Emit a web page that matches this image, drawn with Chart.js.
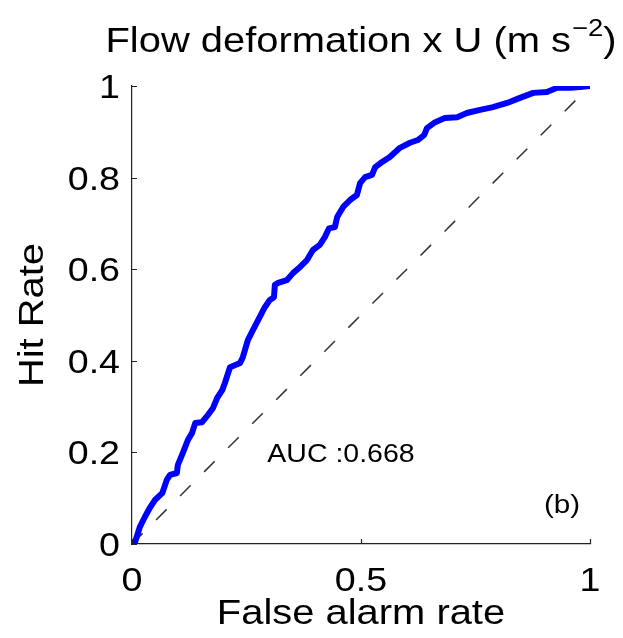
<!DOCTYPE html>
<html>
<head>
<meta charset="utf-8">
<title>ROC - Flow deformation x U</title>
<script src="https://cdn.jsdelivr.net/npm/chart.js@4.4.1/dist/chart.umd.min.js"></script>
<style>
    html, body { margin: 0; padding: 0; background: #ffffff; }
    #rocChart { display: block; }
</style>
</head>
<body>
<canvas id="rocChart" width="623" height="638"></canvas>
<script>
// ROC curve points (false alarm rate, hit rate)
const falseAlarm = [0, 0.006, 0.013, 0.017, 0.028, 0.039, 0.050, 0.066, 0.076, 0.083, 0.098, 0.100,
    0.111, 0.122, 0.131, 0.138, 0.153, 0.166, 0.177, 0.186, 0.197, 0.203, 0.214, 0.236, 0.242,
    0.253, 0.264, 0.279, 0.290, 0.301, 0.310, 0.312, 0.319, 0.338, 0.352, 0.367, 0.382, 0.395,
    0.410, 0.421, 0.430, 0.443, 0.448, 0.461, 0.476, 0.491, 0.498, 0.509, 0.524, 0.531, 0.546,
    0.563, 0.585, 0.607, 0.624, 0.638, 0.644, 0.662, 0.683, 0.710, 0.731, 0.760, 0.788, 0.819,
    0.847, 0.876, 0.906, 0.928, 0.956, 0.978, 1];
const hitRate = [0, 0.002, 0.024, 0.037, 0.059, 0.079, 0.096, 0.111, 0.140, 0.151, 0.155, 0.172,
    0.199, 0.227, 0.242, 0.264, 0.266, 0.282, 0.297, 0.319, 0.336, 0.352, 0.386, 0.395, 0.408,
    0.445, 0.467, 0.496, 0.517, 0.533, 0.539, 0.566, 0.570, 0.576, 0.592, 0.605, 0.620, 0.642,
    0.653, 0.670, 0.689, 0.692, 0.714, 0.736, 0.751, 0.762, 0.788, 0.801, 0.806, 0.823, 0.834,
    0.845, 0.865, 0.876, 0.882, 0.893, 0.908, 0.921, 0.930, 0.932, 0.941, 0.948, 0.954, 0.963,
    0.974, 0.985, 0.987, 0.996, 0.996, 0.998, 1];

// no-skill diagonal
const diagX = [0, 1];
const diagY = [0, 1];

const xTicks = [0, 0.5, 1];
const xTickLabels = ['0', '0.5', '1'];
const yTicks = [0, 0.2, 0.4, 0.6, 0.8, 1];
const yTickLabels = ['0', '0.2', '0.4', '0.6', '0.8', '1'];

const aucText = 'AUC :0.668';
const panelText = '(b)';

const FONT = '"Liberation Sans", Arial, Helvetica, sans-serif';
const WIDE = 1.14;  // the lettering is a bit wider than Liberation Sans

function toPoints(xs, ys) {
    return xs.map((x, i) => ({ x: x, y: ys[i] }));
}

// text drawn slightly widened along its reading direction
function wideText(ctx, text, x, y, align, baseline, angle) {
    ctx.save();
    ctx.translate(x, y);
    if (angle) ctx.rotate(angle);
    ctx.scale(WIDE, 1);
    ctx.textAlign = align;
    ctx.textBaseline = baseline;
    ctx.fillText(text, 0, 0);
    ctx.restore();
}

// inward tick marks, tick labels and all the free text
const annotate = {
    id: 'annotate',
    afterDraw(chart) {
        const ctx = chart.ctx;
        const xs = chart.scales.x;
        const ys = chart.scales.y;
        const area = chart.chartArea;

        ctx.save();
        ctx.strokeStyle = '#222';
        ctx.lineWidth = 1.2;
        ctx.beginPath();
        xTicks.forEach(v => {
            const px = Math.round(xs.getPixelForValue(v)) + 0.5;
            ctx.moveTo(px, area.bottom);
            ctx.lineTo(px, area.bottom - 5);
        });
        yTicks.forEach(v => {
            const py = Math.round(ys.getPixelForValue(v)) + 0.5;
            ctx.moveTo(area.left, py);
            ctx.lineTo(area.left + 5, py);
        });
        ctx.stroke();

        ctx.fillStyle = '#000';

        // tick labels
        ctx.font = '33px ' + FONT;
        xTicks.forEach((v, i) => {
            wideText(ctx, xTickLabels[i], xs.getPixelForValue(v), area.bottom + 47, 'center', 'alphabetic');
        });
        yTicks.forEach((v, i) => {
            wideText(ctx, yTickLabels[i], area.left - 12, ys.getPixelForValue(v) + 12, 'right', 'alphabetic');
        });

        // title: "Flow deformation x U (m s^-2)"
        const mainFont = '35px ' + FONT;
        const supFont = '24px ' + FONT;
        const partA = 'Flow deformation x U (m s';
        const partSup = '\u22122';
        const partB = ')';
        ctx.font = mainFont;
        const wA = ctx.measureText(partA).width * WIDE;
        const wB = ctx.measureText(partB).width * WIDE;
        ctx.font = supFont;
        const wSup = ctx.measureText(partSup).width * WIDE;
        const total = wA + wSup + wB + 1;
        const cx = (area.left + area.right) / 2;
        let tx = cx - total / 2;
        const base = 52;
        ctx.font = mainFont;
        wideText(ctx, partA, tx, base, 'left', 'alphabetic');
        tx += wA + 1;
        ctx.font = supFont;
        wideText(ctx, partSup, tx, base - 16, 'left', 'alphabetic');
        tx += wSup;
        ctx.font = mainFont;
        wideText(ctx, partB, tx, base, 'left', 'alphabetic');

        // axis titles
        ctx.font = '35px ' + FONT;
        wideText(ctx, 'False alarm rate', cx, 624, 'center', 'alphabetic');
        wideText(ctx, 'Hit Rate', 43, (area.top + area.bottom) / 2, 'center', 'alphabetic', -Math.PI / 2);

        // annotations
        ctx.font = '25px ' + FONT;
        wideText(ctx, aucText, 341, 462, 'center', 'alphabetic');
        ctx.font = '26px ' + FONT;
        wideText(ctx, panelText, 562, 513, 'center', 'alphabetic');
        ctx.restore();
    }
};

const ctx = document.getElementById('rocChart').getContext('2d');
const chart = new Chart(ctx, {
    type: 'scatter',
    data: {
        datasets: [
            {
                label: 'ROC',
                data: toPoints(falseAlarm, hitRate),
                showLine: true,
                borderColor: '#0000ff',
                borderWidth: 6,
                borderCapStyle: 'round',
                borderJoinStyle: 'round',
                pointRadius: 0,
                tension: 0,
                fill: false
            },
            {
                label: 'No skill',
                data: toPoints(diagX, diagY),
                showLine: true,
                borderColor: '#333333',
                borderWidth: 1.5,
                borderDash: [15, 19],
                pointRadius: 0,
                tension: 0,
                fill: false
            }
        ]
    },
    options: {
        responsive: false,
        animation: false,
        events: [],
        layout: {
            padding: { left: 0, right: 33, top: 86, bottom: 0 }
        },
        plugins: {
            legend: { display: false },
            tooltip: { enabled: false },
            title: { display: false }
        },
        scales: {
            x: {
                type: 'linear',
                min: 0,
                max: 1,
                afterBuildTicks: scale => { scale.ticks = xTicks.map(v => ({ value: v })); },
                afterFit: scale => { scale.height = 94; },
                grid: { display: false, drawTicks: false },
                border: { display: true, color: '#222', width: 1.2 },
                ticks: { display: false }
            },
            y: {
                type: 'linear',
                min: 0,
                max: 1,
                afterBuildTicks: scale => { scale.ticks = yTicks.map(v => ({ value: v })); },
                afterFit: scale => { scale.width = 132; },
                grid: { display: false, drawTicks: false },
                border: { display: true, color: '#222', width: 1.2 },
                ticks: { display: false }
            }
        }
    },
    plugins: [annotate]
});
</script>
</body>
</html>
